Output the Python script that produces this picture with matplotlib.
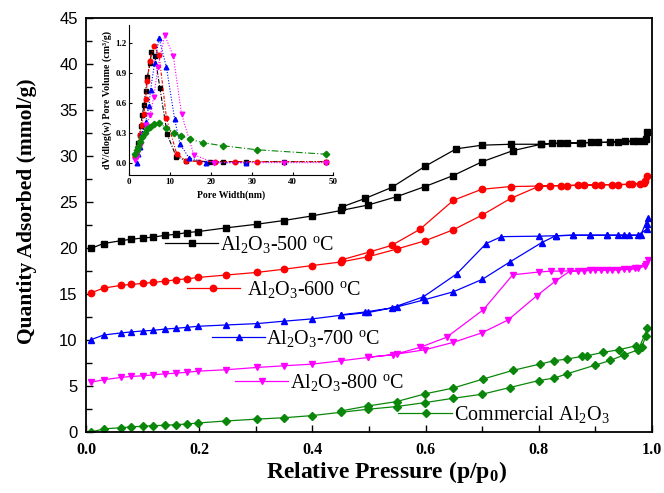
import matplotlib
matplotlib.use("Agg")
import matplotlib.pyplot as plt
from matplotlib.ticker import MultipleLocator

plt.rcParams['mathtext.default'] = 'regular'
plt.rcParams['font.family'] = ['Liberation Serif', 'DejaVu Serif']

# ---------------- main isotherm data (p/p0, mmol/g) ----------------
labels = ['Al$_2$O$_3$-500 $^{o}$C', 'Al$_2$O$_3$-600 $^{o}$C',
          'Al$_2$O$_3$-700 $^{o}$C', 'Al$_2$O$_3$-800 $^{o}$C',
          'Commercial Al$_2$O$_3$']
colors = ['#000000', '#ff0000', '#0000ff', '#ff00ff', '#0a870a']
markers = ['s', 'o', '^', 'v', 'D']

p_low = [0.009, 0.031, 0.061, 0.079, 0.100, 0.119, 0.140, 0.159, 0.179, 0.198,
         0.247, 0.302, 0.349, 0.399, 0.451, 0.499, 0.549, 0.599, 0.649, 0.700]

# Al2O3-500
p500_ads = p_low + [0.754, 0.804, 0.824, 0.849, 0.876, 0.905, 0.940, 0.966, 0.985, 0.992]
q500_ads = [19.98, 20.5, 20.8, 20.96, 21.1, 21.2, 21.4, 21.5, 21.7, 21.8,
            22.2, 22.6, 23.0, 23.5, 24.1, 24.7, 25.6, 26.7, 27.9, 29.4,
            30.6, 31.3, 31.4, 31.4, 31.45, 31.5, 31.55, 31.6, 31.7, 32.6]
p500_des = [0.989, 0.976, 0.952, 0.926, 0.892, 0.872, 0.837, 0.804, 0.751, 0.700,
            0.654, 0.599, 0.540, 0.493, 0.453]
q500_des = [31.9, 31.7, 31.6, 31.5, 31.5, 31.45, 31.4, 31.3, 31.3, 31.2,
            30.8, 28.9, 26.6, 25.4, 24.5]

# Al2O3-600
p600_ads = p_low + [0.750, 0.799, 0.82, 0.85, 0.88, 0.91, 0.94, 0.965, 0.979, 0.988, 0.991]
q600_ads = [15.14, 15.65, 15.94, 16.05, 16.16, 16.27, 16.41, 16.56, 16.67, 16.81,
            17.07, 17.36, 17.7, 18.1, 18.5, 19.07, 19.9, 20.8, 22.0, 23.6,
            25.4, 26.7, 26.8, 26.8, 26.85, 26.9, 26.9, 26.95, 27.0, 27.3, 27.9]
p600_des = [0.985, 0.96, 0.93, 0.90, 0.87, 0.84, 0.80, 0.750, 0.699, 0.649,
            0.590, 0.540, 0.502, 0.453]
q600_des = [27.1, 26.95, 26.9, 26.9, 26.85, 26.8, 26.75, 26.7, 26.4, 25.2,
            22.05, 20.3, 19.6, 18.75]

# Al2O3-700
p700_ads = p_low + [0.749, 0.805, 0.83, 0.86, 0.89, 0.92, 0.94, 0.96, 0.98, 0.993]
q700_ads = [10.04, 10.55, 10.77, 10.88, 10.99, 11.06, 11.2, 11.28, 11.39, 11.5,
            11.64, 11.79, 12.05, 12.3, 12.7, 13.0, 13.6, 14.4, 15.25, 16.6,
            18.5, 20.6, 21.35, 21.4, 21.4, 21.4, 21.4, 21.4, 21.4, 23.3]
p700_des = [0.992, 0.991, 0.975, 0.95, 0.92, 0.89, 0.86, 0.83, 0.80, 0.734,
            0.707, 0.655, 0.596, 0.540, 0.493, 0.451]
q700_des = [22.6, 22.05, 21.4, 21.4, 21.4, 21.4, 21.4, 21.35, 21.3, 21.25,
            20.5, 17.2, 14.7, 13.5, 13.05, 12.75]

# Al2O3-800
p800_ads = p_low + [0.746, 0.796, 0.829, 0.855, 0.88, 0.90, 0.92, 0.94, 0.96, 0.975, 0.988, 0.993]
q800_ads = [5.42, 5.68, 5.93, 6.04, 6.11, 6.22, 6.33, 6.4, 6.5, 6.62,
            6.77, 7.02, 7.2, 7.38, 7.75, 8.11, 8.47, 8.95, 9.75, 10.8,
            12.2, 14.8, 16.4, 17.5, 17.55, 17.6, 17.6, 17.65, 17.7, 17.8, 18.05, 18.7]
p800_des = [0.99, 0.97, 0.95, 0.93, 0.91, 0.89, 0.87, 0.84, 0.822, 0.80,
            0.754, 0.702, 0.637, 0.59, 0.543, 0.499]
q800_des = [18.3, 17.8, 17.7, 17.65, 17.6, 17.6, 17.55, 17.5, 17.5, 17.4,
            17.1, 13.3, 10.3, 9.2, 8.4, 8.15]

# Commercial Al2O3
pcom_ads = p_low + [0.749, 0.800, 0.827, 0.850, 0.900, 0.926, 0.950, 0.976, 0.992]
qcom_ads = [0.0, 0.33, 0.47, 0.55, 0.62, 0.69, 0.73, 0.8, 0.87, 0.98,
            1.2, 1.4, 1.55, 1.78, 2.15, 2.48, 2.77, 3.2, 3.67, 4.11,
            4.84, 5.6, 5.86, 6.33, 7.28, 7.78, 8.37, 8.95, 11.3]
pcom_des = [0.989, 0.982, 0.972, 0.942, 0.913, 0.886, 0.876, 0.85, 0.827, 0.802,
            0.754, 0.701, 0.648, 0.599, 0.549, 0.499, 0.451]
qcom_des = [10.4, 9.3, 9.39, 8.95, 8.66, 8.3, 8.22, 7.94, 7.75, 7.39,
            6.7, 5.75, 4.77, 4.15, 3.31, 2.84, 2.3]

series = [(p500_ads, q500_ads, p500_des, q500_des),
          (p600_ads, q600_ads, p600_des, q600_des),
          (p700_ads, q700_ads, p700_des, q700_des),
          (p800_ads, q800_ads, p800_des, q800_des),
          (pcom_ads, qcom_ads, pcom_des, qcom_des)]

# ---------------- inset PSD data (nm, dV/dlog(w)) ----------------
w500 = [1.4, 2.1, 2.5, 2.8, 3.2, 3.6, 4.0, 4.4, 5.1, 5.4, 6.3, 7.5, 9.3, 11.5, 14.0, 19.9, 22.9, 28.7, 37.9, 48.2]
v500 = [0.07, 0.195, 0.28, 0.37, 0.48, 0.58, 0.72, 0.86, 1.0, 1.11, 1.07, 0.75, 0.285, 0.06, 0.02, 0.01, 0.01, 0.01, 0.01, 0.01]
w600 = [1.5, 2.2, 2.6, 3.0, 3.6, 4.0, 4.4, 5.0, 6.0, 7.3, 9.1, 11.6, 13.8, 17.1, 21.1, 26.0, 31.2, 48.2]
v600 = [0.06, 0.16, 0.28, 0.38, 0.49, 0.64, 0.82, 1.02, 1.17, 1.08, 0.45, 0.09, 0.02, 0.01, 0.01, 0.01, 0.01, 0.01]
w700 = [1.8, 2.2, 2.6, 3.2, 4.0, 4.8, 5.2, 6.2, 7.3, 9.1, 11.1, 12.4, 14.6, 18.9, 28.7]
v700 = [0.0, 0.09, 0.16, 0.30, 0.41, 0.57, 0.73, 1.0, 1.25, 0.96, 0.44, 0.19, 0.05, 0.0, 0.0]
w800 = [1.4, 1.8, 2.2, 2.8, 3.4, 4.2, 5.1, 6.0, 7.0, 8.7, 10.8, 12.8, 15.8, 20.7, 37.9, 48.2]
v800 = [0.03, 0.06, 0.11, 0.19, 0.28, 0.38, 0.48, 0.66, 0.96, 1.28, 1.07, 0.49, 0.08, 0.0, 0.0, 0.0]
wcom = [1.4, 1.8, 2.2, 2.6, 3.2, 3.8, 4.4, 5.1, 6.0, 7.3, 9.1, 10.9, 12.6, 14.9, 18.1, 23.0, 31.2, 48.2]
vcom = [0.09, 0.13, 0.16, 0.21, 0.26, 0.30, 0.34, 0.36, 0.39, 0.395, 0.35, 0.30, 0.27, 0.235, 0.2, 0.17, 0.13, 0.085]

psd = [(w500, v500), (w600, v600), (w700, v700), (w800, v800), (wcom, vcom)]
psd_styles = [(0, (4, 1.5, 1, 1.5)), (0, (3, 1.5, 1, 1.5)), (0, (1, 1.5)),
              (0, (1, 1.5)), (0, (6, 2, 1, 2))]

# ---------------- figure ----------------
fig = plt.figure(figsize=(6.64, 4.93), dpi=100)
ax = fig.add_axes([86 / 664, 1 - 432 / 493, 566 / 664, (432 - 18.3) / 493])

msz = [4.2, 4.6, 4.8, 4.8, 4.0]
for (pa, qa, pd, qd), c, m, ms in zip(series, colors, markers, msz):
    ax.plot(list(pa) + list(pd), list(qa) + list(qd), color=c, marker=m,
            ms=ms, lw=0.9, mec=c, mfc=c)

ax.set_xlim(0, 1.0)
ax.set_ylim(0, 45)
ax.xaxis.set_major_locator(MultipleLocator(0.2))
ax.xaxis.set_minor_locator(MultipleLocator(0.1))
ax.yaxis.set_major_locator(MultipleLocator(5))
ax.yaxis.set_minor_locator(MultipleLocator(2.5))
ax.tick_params(which='both', direction='in', top=False, right=False, width=1.0)
ax.tick_params(which='major', length=5)
ax.tick_params(which='minor', length=4)
ax.tick_params(axis='x', pad=7)
ax.tick_params(axis='y', pad=6)
ax.set_xticks([0.0, 0.2, 0.4, 0.6, 0.8, 1.0])
ax.set_xticklabels([f'{v:.1f}' for v in [0.0, 0.2, 0.4, 0.6, 0.8, 1.0]],
                   fontsize=11.5, fontweight='bold', family='Liberation Serif')
ax.set_yticks(range(0, 46, 5))
ax.set_yticklabels([str(v) for v in range(0, 46, 5)], fontsize=12, family='Liberation Sans')
for sp in ax.spines.values():
    sp.set_linewidth(1.3)

ax.set_xlabel('Relative Pressure (p/p$_0$)', fontsize=17, fontweight='bold')
ax.xaxis.set_label_coords(0.531, -0.066)
ax.xaxis.label.set_va('top')
ax.set_ylabel('Quantity Adsorbed (mmol/g)', fontsize=15.5, fontweight='bold')
ax.yaxis.set_label_coords(-0.087, 0.534)

# in-plot series labels (line + marker + text)
label_pos = [(0.140, 0.233, 0.187, 0.456, 0.237),
             (0.178, 0.272, 0.225, 0.347, 0.284),
             (0.222, 0.316, 0.270, 0.229, 0.318),
             (0.263, 0.357, 0.311, 0.123, 0.360),
             (0.551, 0.647, 0.601, 0.045, 0.650)]
for (x0, x1, xm, y, xt), lab, c, m, ms in zip(label_pos, labels, colors, markers, msz):
    ax.plot([x0, x1], [y, y], color=c, lw=0.9, transform=ax.transAxes, clip_on=False)
    ax.plot([xm], [y], color=c, marker=m, ms=ms, transform=ax.transAxes, clip_on=False)
    ax.annotate(lab, xy=(xt, y), xycoords='axes fraction', xytext=(0, -4.8),
                textcoords='offset points', fontsize=14.5, va='baseline', ha='left')

# ---------------- inset ----------------
ins = fig.add_axes([129.3 / 664, 1 - 175 / 493, 204 / 664, 150 / 493])
for (w, v), c, m, ls in zip(psd, colors, markers, psd_styles):
    ins.plot(w, v, color=c, marker=m, ms=3.3, lw=0.8, ls=ls, mec=c, mfc=c)
ins.set_xlim(0, 50)
ins.set_ylim(-0.124, 1.384)
ins.set_xticks([0, 10, 20, 30, 40, 50])
ins.set_yticks([0.0, 0.3, 0.6, 0.9, 1.2])
ins.set_yticklabels(['0.0', '0.3', '0.6', '0.9', '1.2'], fontsize=6.5, fontweight='bold')
ins.set_xticklabels(['0', '10', '20', '30', '40', '50'], fontsize=6.5, fontweight='bold')
ins.tick_params(direction='in', length=2.5, width=0.8, pad=2)
ins.spines['top'].set_visible(False)
ins.spines['right'].set_visible(False)
ins.patch.set_alpha(0)
ins.set_xlabel('Pore Width(nm)', fontsize=7, fontweight='bold', labelpad=3)
ins.set_ylabel('dV/dlog(w) Pore Volume (cm³/g)', fontsize=7.2, fontweight='bold', labelpad=2)

fig.savefig('out.png', dpi=100)
